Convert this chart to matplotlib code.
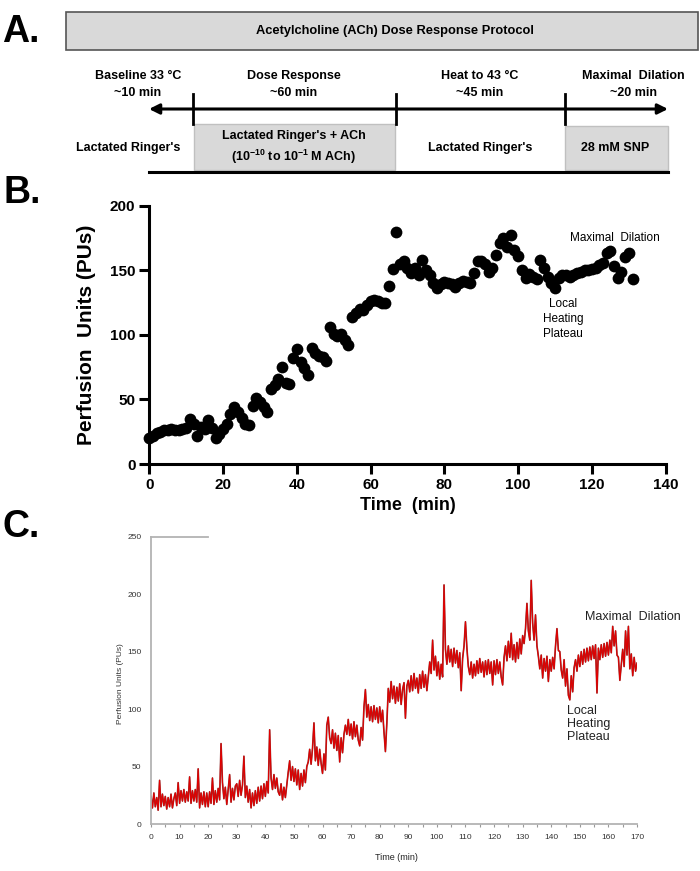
import numpy as np
import matplotlib
matplotlib.use('Agg')
import matplotlib.pyplot as plt
from matplotlib.patches import Rectangle
from matplotlib.ticker import MultipleLocator

# Panel B: perfusion (PUs) sampled once a minute
b_time = np.arange(0, 132)
b_pu = [20, 22, 24, 25, 26, 26, 27, 26, 26, 27,
        28, 35, 31, 22, 29, 27, 34, 28, 20, 23,
        27, 31, 39, 44, 40, 36, 31, 30, 45, 51,
        48, 44, 40, 58, 61, 66, 75, 63, 62, 82,
        89, 79, 74, 69, 90, 86, 84, 83, 80, 106,
        101, 99, 101, 96, 92, 114, 117, 120, 119, 123,
        126, 127, 126, 125, 125, 138, 151, 180, 155, 157,
        152, 148, 152, 146, 158, 150, 146, 140, 136, 139,
        141, 140, 139, 137, 140, 142, 141, 140, 148, 157,
        157, 155, 149, 152, 162, 171, 175, 168, 177, 166,
        161, 150, 144, 147, 145, 143, 158, 152, 145, 140,
        136, 144, 146, 146, 145, 146, 148, 149, 150, 150,
        151, 152, 154, 156, 163, 165, 153, 144, 149, 160,
        163, 143]

# Panel C: raw laser-Doppler trace, read every 0.5 min
c_time = np.arange(0, 170.5, 0.5)
c_pu = [24, 14, 27, 15, 23, 12, 38, 15, 26, 16, 24, 13, 23, 15, 26, 14, 22, 27, 16, 36,
        18, 29, 20, 30, 19, 28, 20, 41, 18, 29, 20, 30, 19, 48, 14, 27, 17, 28, 15, 27,
        15, 28, 18, 40, 17, 29, 19, 31, 21, 70, 36, 22, 32, 17, 30, 43, 19, 31, 21, 33,
        35, 24, 38, 25, 34, 59, 23, 33, 19, 30, 14, 27, 16, 29, 18, 32, 20, 33, 22, 35,
        24, 37, 27, 82, 40, 30, 43, 31, 40, 28, 25, 35, 21, 32, 23, 34, 45, 55, 38, 50,
        37, 48, 34, 47, 30, 44, 33, 47, 36, 50, 54, 65, 52, 66, 88, 55, 67, 51, 65, 53,
        44, 61, 47, 86, 93, 75, 70, 82, 66, 79, 64, 77, 54, 75, 62, 78, 86, 78, 91, 77,
        87, 74, 89, 76, 86, 73, 68, 84, 73, 102, 117, 93, 104, 90, 102, 89, 103, 91, 101, 88,
        102, 89, 99, 80, 63, 88, 118, 106, 124, 109, 120, 105, 119, 107, 122, 104, 117, 123, 92, 120,
        125, 115, 129, 116, 131, 118, 127, 114, 130, 118, 133, 119, 130, 116, 129, 141, 131, 160, 134, 146,
        129, 141, 126, 139, 128, 208, 152, 139, 155, 141, 152, 137, 153, 140, 151, 136, 149, 116, 144, 155,
        176, 153, 137, 130, 141, 127, 139, 129, 142, 131, 144, 132, 141, 128, 142, 130, 143, 131, 141, 121,
        142, 130, 143, 131, 141, 128, 121, 145, 155, 142, 159, 145, 166, 143, 156, 141, 158, 144, 161, 148,
        164, 157, 170, 192, 168, 160, 212, 175, 160, 182, 155, 146, 135, 147, 127, 144, 133, 146, 124, 143,
        133, 145, 135, 155, 170, 151, 150, 134, 127, 143, 120, 135, 112, 108, 129, 115, 136, 143, 133, 147,
        137, 150, 139, 152, 141, 153, 142, 154, 143, 155, 144, 156, 114, 153, 143, 156, 145, 157, 146, 158,
        147, 160, 149, 172, 155, 168, 147, 145, 125, 139, 152, 137, 168, 147, 172, 135, 148, 129, 145, 133,
        140]

# Panel A: protocol timeline
phase_names = ['Baseline 33 °C', 'Dose Response', 'Heat to 43 °C', 'Maximal  Dilation']
phase_times = ['~10 min', '~60 min', '~45 min', '~20 min']
solutions = ["Lactated Ringer's", "Lactated Ringer's + ACh\n(10$^{\\mathbf{-10}}$ to 10$^{\\mathbf{-1}}$ M ACh)",
             "Lactated Ringer's", '28 mM SNP']

plt.rcParams['font.family'] = ['Liberation Sans', 'DejaVu Sans']
plt.rcParams['mathtext.fontset'] = 'custom'
plt.rcParams['mathtext.rm'] = 'Liberation Sans'
plt.rcParams['mathtext.bf'] = 'Liberation Sans:bold'

W, H = 700, 871
fig = plt.figure(figsize=(W / 100, H / 100), dpi=100)

# ---- B ----
ax_b = fig.add_axes([149.3 / W, 1 - 464 / H, 516.4 / W, 258.3 / H])
ax_b.scatter(b_time, b_pu, s=72, color='black', zorder=3, clip_on=False, linewidths=0)
ax_b.set_xlim(0, 140)
ax_b.set_ylim(0, 200)
ax_b.set_xticks(range(0, 141, 20))
ax_b.set_yticks(range(0, 201, 50))
for s in ['top', 'right']:
    ax_b.spines[s].set_visible(False)
for s in ['left', 'bottom']:
    ax_b.spines[s].set_linewidth(2.2)
ax_b.tick_params(length=7, width=2.2, labelsize=11, pad=3)
for lab in ax_b.get_xticklabels() + ax_b.get_yticklabels():
    lab.set_fontweight('bold')
ax_b.set_ylabel('Perfusion  Units (PUs)', fontsize=15, fontweight='bold')
ax_b.yaxis.set_label_coords(-0.103, 0.5)
ax_b.set_xlabel('Time  (min)', fontsize=13, fontweight='bold', labelpad=4)
ax_b.patch.set_alpha(0)

# ---- C ----
ax_c = fig.add_axes([151 / W, 1 - 824 / H, 486 / W, 287.3 / H])
ax_c.plot(c_time, c_pu, color='#8a3a3a', lw=1.2)
ax_c.plot(c_time, c_pu, color='#e00000', lw=0.8)
ax_c.set_xlim(0, 170)
ax_c.set_ylim(0, 250)
ax_c.set_xticks(range(0, 171, 10))
ax_c.xaxis.set_minor_locator(MultipleLocator(5))
ax_c.set_yticks(range(0, 251, 50))
ax_c.spines['right'].set_visible(False)
ax_c.spines['top'].set_bounds(0, 20)
for s in ['left', 'bottom', 'top']:
    ax_c.spines[s].set_color('#b3b3b3')
    ax_c.spines[s].set_linewidth(1.3)
ax_c.tick_params(axis='x', which='both', length=2.5, width=0.8, color='#999999',
                 labelsize=6, labelcolor='#333333', pad=5)
ax_c.tick_params(axis='y', length=0, labelsize=6, labelcolor='#333333', pad=7)
ax_c.set_ylabel('Perfusion Units (PUs)', fontsize=6, color='#333333')
ax_c.yaxis.set_label_coords(-0.055, 0.49)
ax_c.set_xlabel('Time (min)', fontsize=6.5, color='#222222')
ax_c.xaxis.set_label_coords(0.506, -0.1)
ax_c.patch.set_alpha(0)

# ---- overlay in pixel coordinates: panel A + labels ----
ov = fig.add_axes([0, 0, 1, 1], zorder=10)
ov.set_xlim(0, W)
ov.set_ylim(H, 0)
ov.axis('off')
ov.patch.set_alpha(0)

letter = dict(fontsize=27, fontweight='bold', va='baseline', ha='left')
ov.text(2, 42, 'A.', **letter)
ov.text(3, 203, 'B.', **letter)
ov.text(3, 537, 'C.', **letter)

ov.add_patch(Rectangle((66, 12), 632, 38, fc='#d9d9d9', ec='#555555', lw=1.2))
ov.text(395, 31, 'Acetylcholine (ACh) Dose Response Protocol', fontsize=9.3,
        fontweight='bold', ha='center', va='center')

bold = dict(fontsize=9, fontweight='bold', ha='center', va='center')
name_x = [138, 294, 480, 633]
for x, n, t in zip(name_x, phase_names, phase_times):
    ov.text(x, 76, n, **bold)
    ov.text(x, 93, t, **bold)

ov.annotate('', xy=(668, 109), xytext=(149, 109),
            arrowprops=dict(arrowstyle='<|-|>', lw=2.2, color='black',
                            mutation_scale=15, shrinkA=0, shrinkB=0))
for x in [193, 396, 565]:
    ov.plot([x, x], [94, 124], color='black', lw=2)

ov.add_patch(Rectangle((194, 124), 201, 46, fc='#d9d9d9', ec='#c0c0c0', lw=1))
ov.add_patch(Rectangle((565, 126), 103, 44, fc='#d9d9d9', ec='#c0c0c0', lw=1))
ov.plot([149, 668], [172, 172], color='black', lw=2.2)

sol_x = [128, 294, 480, 615]
for x, s in zip(sol_x, solutions):
    ov.text(x, 148, s, linespacing=1.45, **bold)

# annotations on the traces
ov.text(615, 238, 'Maximal  Dilation', fontsize=8.5, ha='center', va='center')
ov.text(563, 319, 'Local\nHeating\nPlateau', fontsize=8.5, ha='center', va='center',
        linespacing=1.3)
ov.text(633, 617, 'Maximal  Dilation', fontsize=9, ha='center', va='center', color='#222222')
ov.text(567, 724, 'Local\nHeating\nPlateau', fontsize=9, ha='left', va='center',
        linespacing=1.15, color='#222222')

fig.savefig('out.png', dpi=100)
